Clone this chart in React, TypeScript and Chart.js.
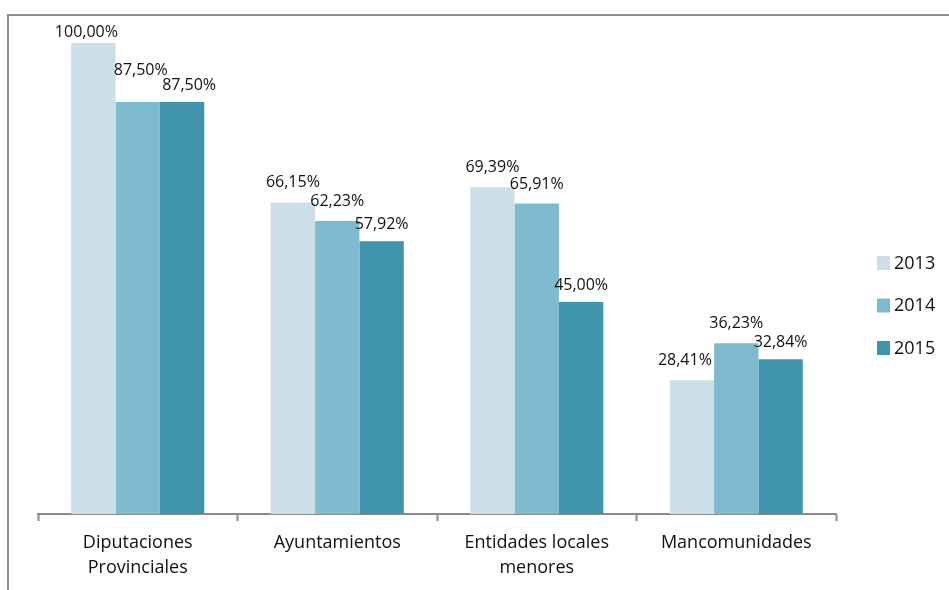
import React, { useEffect, useRef } from "react";
import { Chart, registerables } from "chart.js";

Chart.register(...registerables);

const categories: string[][] = [
  ["Diputaciones", "Provinciales"],
  ["Ayuntamientos"],
  ["Entidades locales", "menores"],
  ["Mancomunidades"],
];
const seriesNames = ["2013", "2014", "2015"];
const values2013 = [100.0, 66.15, 69.39, 28.41];
const values2014 = [87.5, 62.23, 65.91, 36.23];
const values2015 = [87.5, 57.92, 45.0, 32.84];
const colors = ["#CCDFE8", "#7EBBCF", "#4095AD"];

const FONT = "'Open Sans', 'DejaVu Sans', sans-serif";

const fmt = (v: number) => v.toFixed(2).replace(".", ",") + "%";

const labelPlugin = {
  id: "barLabels",
  afterDatasetsDraw(chart: any) {
    const ctx = chart.ctx;
    const baseOffsets = [15, 15, 12];
    const nudges: Record<string, { dx: number; dy: number }> = {
      "0-0": { dx: -7, dy: 9 },
      "1-0": { dx: 3, dy: -12 },
      "2-0": { dx: 7, dy: 0 },
      "0-3": { dx: -7, dy: 0 },
    };
    ctx.save();
    ctx.font = `16px ${FONT}`;
    ctx.fillStyle = "#111";
    ctx.textAlign = "center";
    ctx.textBaseline = "alphabetic";
    chart.data.datasets.forEach((ds: any, di: number) => {
      const meta = chart.getDatasetMeta(di);
      meta.data.forEach((el: any, i: number) => {
        const n = nudges[`${di}-${i}`] || { dx: 0, dy: 0 };
        ctx.fillText(fmt(ds.data[i]), el.x + n.dx, el.y - baseOffsets[di] + n.dy);
      });
    });
    ctx.restore();
  },
};

const legendPlugin = {
  id: "sideLegend",
  afterDraw(chart: any) {
    const ctx = chart.ctx;
    ctx.save();
    ctx.font = `18px ${FONT}`;
    ctx.textBaseline = "middle";
    ctx.textAlign = "left";
    chart.data.datasets.forEach((ds: any, i: number) => {
      const y = 256 + i * 42.5;
      ctx.fillStyle = ds.backgroundColor;
      ctx.fillRect(877, y, 13, 14);
      ctx.fillStyle = "#111";
      ctx.fillText(ds.label, 894, y + 7.5);
    });
    ctx.restore();
  },
};

export default function App() {
  const ref = useRef<HTMLCanvasElement>(null);
  useEffect(() => {
    if (!ref.current) return;
    const data = [values2013, values2014, values2015];
    const chart = new Chart(ref.current, {
      type: "bar",
      data: {
        labels: categories,
        datasets: seriesNames.map((name, i) => ({
          label: name,
          data: data[i],
          backgroundColor: colors[i],
          borderWidth: 0,
          categoryPercentage: 0.667,
          barPercentage: 1,
        })),
      },
      options: {
        animation: false,
        responsive: false,
        maintainAspectRatio: false,
        layout: { padding: { left: 38, right: 113, top: 43, bottom: 0 } },
        plugins: { legend: { display: false }, tooltip: { enabled: false } },
        scales: {
          x: {
            z: 1,
            grid: {
              display: true,
              drawOnChartArea: false,
              drawTicks: true,
              tickLength: 7,
              tickWidth: 2,
              tickColor: "#8a8a8a",
              offset: true,
            },
            border: { display: true, color: "#8a8a8a", width: 2 },
            ticks: {
              color: "#111",
              font: { family: FONT, size: 18, lineHeight: 25 / 18 },
              padding: 9,
              maxRotation: 0,
              autoSkip: false,
            },
            afterFit(scale: any) {
              scale.height = 76;
            },
          },
          y: {
            display: false,
            min: 0,
            max: 100,
          },
        },
      },
      plugins: [labelPlugin, legendPlugin],
    });
    return () => chart.destroy();
  }, []);

  return (
    <div style={{ position: "fixed", left: 0, top: 0, width: 949, height: 590, overflow: "hidden", background: "#fff" }}>
      <div
        style={{
          position: "absolute",
          left: 7,
          top: 14,
          width: 1000,
          height: 1000,
          border: "2px solid #8e8e8e",
        }}
      />
      <canvas ref={ref} width={949} height={590} style={{ position: "absolute", left: 0, top: 0, display: "block" }} />
    </div>
  );
}
